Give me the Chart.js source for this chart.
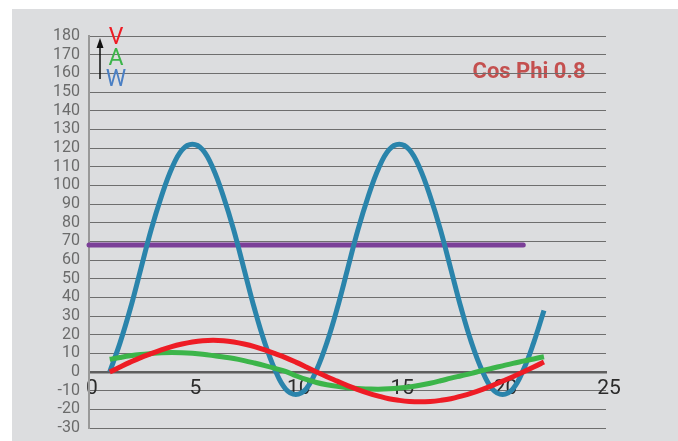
<!DOCTYPE html>
<html>
<head>
<meta charset="utf-8">
<script src="https://cdn.jsdelivr.net/npm/chart.js@4.4.1/dist/chart.umd.min.js"></script>
<style>
body { margin: 0; background: #fff; }
#bg { position: absolute; left: 12px; top: 9px; width: 666px; height: 432px; background: #dcdddf; }
#chart { position: absolute; left: 0; top: 0; }
</style>
</head>
<body>
<div id="bg"></div>
<canvas id="chart" width="678" height="441"></canvas>
<script>
// x positions of the samples (time)
const xValues = [1, 1.5, 2, 2.5, 3, 3.5, 4, 4.5, 5, 5.5, 6, 6.5, 7, 7.5, 8, 8.5, 9, 9.5, 10, 10.5, 11,
    11.5, 12, 12.5, 13, 13.5, 14, 14.5, 15, 15.5, 16, 16.5, 17, 17.5, 18, 18.5, 19, 19.5, 20, 20.5, 21, 21.5, 22];

// W - power
const wValues = [0, 15.6, 34, 55, 76, 94, 109, 119, 122, 119, 109, 94, 76, 55, 34, 15.6, 1, -9, -12, -9, 1,
    15.6, 34, 55, 76, 94, 109, 119, 122, 119, 109, 94, 76, 55, 34, 15.6, 1, -9, -12, -9, 1, 15.6, 33];

// V - voltage
const vValues = [0, 2.7, 5.3, 7.7, 9.8, 11.8, 13.6, 15, 16.1, 16.8, 17, 16.8, 16.1, 15, 13.6, 11.8, 9.8, 7.7, 5.3, 2.7, 0,
    -2.5, -4.9, -7.3, -9.4, -11.3, -12.9, -14.3, -15.2, -15.8, -16, -15.8, -15.2, -14.3, -12.9, -11.3, -9.4, -7.3, -4.9, -2.5, 0, 2.7, 5.3];

// A - current
const aValues = [6.8, 7.8, 8.7, 9.4, 9.9, 10.3, 10.4, 10.3, 10, 9.5, 8.8, 8, 7.2, 6.1, 4.8, 3.4, 1.9, 0.3, -2, -4, -5.6,
    -6.8, -7.7, -8.4, -8.9, -9.1, -9.2, -9, -8.6, -8, -7.1, -6, -4.7, -3.3, -2, -0.7, 0.7, 2, 3.3, 4.6, 5.8, 7, 8.2];

// average power
const avgX = [0, 21];
const avgValues = [68, 68];

// axis ticks
const yMin = -30, yMax = 180, yStep = 10;
const xMin = 0, xMax = 25, xStep = 5;

function pairs(xs, ys) {
    return xs.map((x, i) => ({ x: x, y: ys[i] }));
}

// Texts: V / A / W with arrow, and "Cos Phi 0.8"
const labelsPlugin = {
    id: 'labels',
    beforeDraw(chart) {
        const ctx = chart.ctx;
        ctx.save();
        ctx.font = 'bold 22px Roboto';
        ctx.fillStyle = '#c4504f';
        ctx.textAlign = 'center';
        ctx.textBaseline = 'middle';
        ctx.fillText('Cos Phi 0.8', 529, 72);
        ctx.restore();
    },
    afterDraw(chart) {
        const ctx = chart.ctx;
        ctx.save();
        ctx.font = '23px Roboto';
        ctx.textAlign = 'center';
        ctx.textBaseline = 'middle';
        ctx.fillStyle = '#ee1c25';
        ctx.fillText('V', 116, 38);
        ctx.fillStyle = '#3cb54a';
        ctx.fillText('A', 116, 59);
        ctx.fillStyle = '#4a7fc4';
        ctx.fillText('W', 116, 80);
        // arrow
        ctx.strokeStyle = '#111';
        ctx.fillStyle = '#111';
        ctx.lineWidth = 1.5;
        ctx.beginPath();
        ctx.moveTo(100, 79);
        ctx.lineTo(100, 44);
        ctx.stroke();
        ctx.beginPath();
        ctx.moveTo(100, 38);
        ctx.lineTo(96.5, 48);
        ctx.lineTo(103.5, 48);
        ctx.closePath();
        ctx.fill();
        ctx.restore();
    }
};

// keep the axes from pushing the plot area in
function noPadding(scale) {
    scale.paddingTop = 0;
    scale.paddingBottom = 0;
}

Chart.defaults.font.family = 'Roboto';

new Chart(document.getElementById('chart'), {
    type: 'line',
    data: {
        datasets: [
            {
                label: 'W',
                data: pairs(xValues, wValues),
                borderColor: '#2a84ab',
                borderWidth: 5,
                pointRadius: 0,
                tension: 0.4,
                order: 3
            },
            {
                label: 'Avg',
                data: pairs(avgX, avgValues),
                borderColor: '#7b3f98',
                borderWidth: 5,
                borderCapStyle: 'round',
                pointRadius: 0,
                order: 4
            },
            {
                label: 'A',
                data: pairs(xValues, aValues),
                borderColor: '#3cb54a',
                borderWidth: 5,
                pointRadius: 0,
                tension: 0.4,
                order: 2
            },
            {
                label: 'V',
                data: pairs(xValues, vValues),
                borderColor: '#ee1c25',
                borderWidth: 5,
                pointRadius: 0,
                tension: 0.4,
                order: 1
            }
        ]
    },
    options: {
        responsive: false,
        animation: false,
        clip: false,
        layout: { padding: { top: 36, bottom: 13, right: 72, left: 0 } },
        plugins: {
            legend: { display: false },
            tooltip: { enabled: false }
        },
        scales: {
            x: {
                type: 'linear',
                position: { y: 0 },
                min: xMin,
                max: xMax,
                afterFit(scale) { scale.height = 0; noPadding(scale); },
                grid: { display: false, drawTicks: false },
                border: { color: '#5e5e5e', width: 2.5 },
                ticks: {
                    stepSize: xStep,
                    color: '#2b2b2b',
                    font: { size: 21 },
                    padding: 4,
                    labelOffset: 3
                }
            },
            y: {
                min: yMin,
                max: yMax,
                afterFit(scale) { scale.width = 89; noPadding(scale); },
                grid: { color: '#6e6e6e', lineWidth: 1, drawTicks: false },
                border: { color: '#999', width: 2 },
                ticks: {
                    stepSize: yStep,
                    autoSkip: false,
                    color: '#6b6b6b',
                    font: { size: 16 },
                    padding: 9
                }
            }
        }
    },
    plugins: [labelsPlugin]
});
</script>
</body>
</html>
